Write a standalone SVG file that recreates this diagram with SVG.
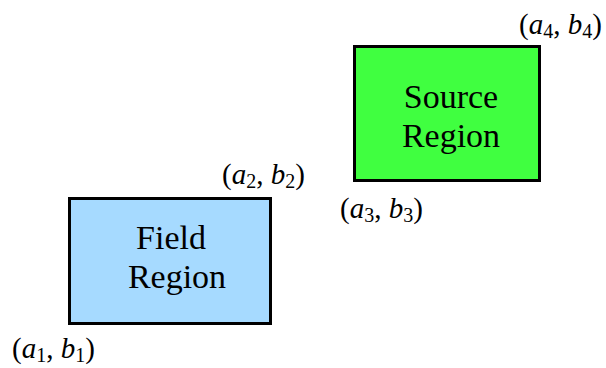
<svg xmlns="http://www.w3.org/2000/svg" width="606" height="368" viewBox="0 0 606 368">
<style>
.box{stroke:#000;stroke-width:3}
.t{font-size:34px;fill:#000;text-anchor:middle}
.m{font-size:29px;fill:#000}
.i{font-style:italic}
.s{font-size:20px}
</style>
<rect width="606" height="368" fill="#fff"/>
<g font-family="Liberation Serif, DejaVu Serif, serif">
<g id="field">
<rect class="box" x="69.5" y="198.5" width="201" height="125" fill="#A6DAFF"/>
<text class="t" x="171" y="249">Field</text>
<text class="t" x="177" y="288">Region</text>
</g>
<g id="source">
<rect class="box" x="354.5" y="46.5" width="185" height="134" fill="#40FF40"/>
<text class="t" x="451" y="108">Source</text>
<text class="t" x="451" y="147">Region</text>
</g>
<g id="labels">
<text class="m" x="12" y="358">(<tspan class="i">a</tspan><tspan class="s" dy="4">1</tspan><tspan dy="-4">, </tspan><tspan class="i">b</tspan><tspan class="s" dy="4">1</tspan><tspan dy="-4">)</tspan></text>
<text class="m" x="222" y="184">(<tspan class="i">a</tspan><tspan class="s" dy="4">2</tspan><tspan dy="-4">, </tspan><tspan class="i">b</tspan><tspan class="s" dy="4">2</tspan><tspan dy="-4">)</tspan></text>
<text class="m" x="340" y="218">(<tspan class="i">a</tspan><tspan class="s" dy="4">3</tspan><tspan dy="-4">, </tspan><tspan class="i">b</tspan><tspan class="s" dy="4">3</tspan><tspan dy="-4">)</tspan></text>
<text class="m" x="519" y="34">(<tspan class="i">a</tspan><tspan class="s" dy="4">4</tspan><tspan dy="-4">, </tspan><tspan class="i">b</tspan><tspan class="s" dy="4">4</tspan><tspan dy="-4">)</tspan></text>
</g>
</g>
<g id="connectors"></g>
</svg>
